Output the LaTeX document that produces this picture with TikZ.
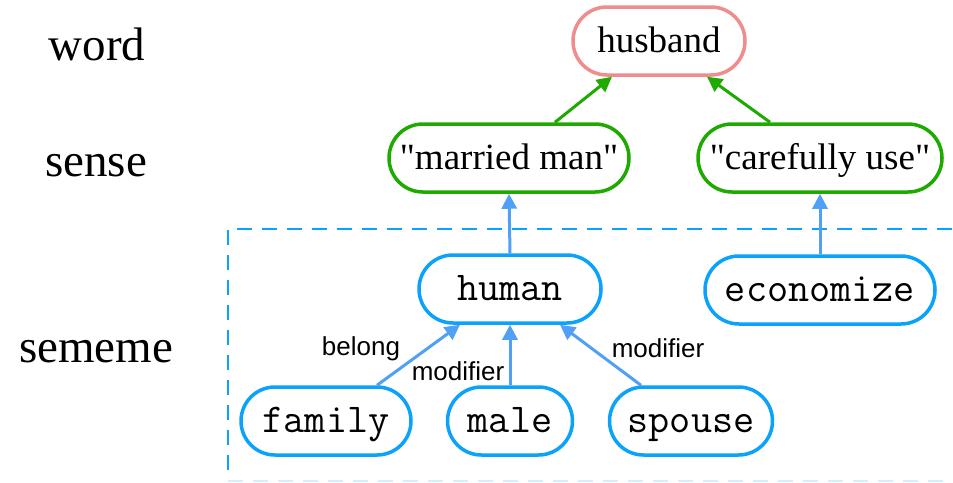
\documentclass[tikz,border=0pt]{standalone}
\usepackage{fontspec}
\setmainfont{Liberation Serif}[Ligatures=TeXOff]
\setsansfont{Liberation Sans}
\usetikzlibrary{arrows.meta,calc}
\definecolor{wordpink}{RGB}{240,140,140}
\definecolor{sensegreen}{RGB}{30,170,0}
\definecolor{semeblue}{RGB}{10,162,250}
\definecolor{linkblue}{RGB}{80,160,245}
\tikzset{
  box/.style={draw, rounded corners=34pt, line width=3.5pt, inner sep=0pt,
    minimum height=68pt, fill=white},
  wordbox/.style={box, draw=wordpink, font=\fontsize{37}{40}\selectfont,
    text height=29.6pt, text depth=5.9pt},
  sensebox/.style={box, draw=sensegreen, font=\fontsize{37}{40}\selectfont,
    text height=29.6pt, text depth=5.9pt},
  semebox/.style={box, draw=semeblue,
    font=\ttfamily\fontsize{41}{44}\selectfont\addfontfeatures{LetterSpace=3},
    text height=30pt, text depth=8pt},
  rowlabel/.style={anchor=base, inner sep=0pt, font=\fontsize{47}{50}\selectfont},
  edgelabel/.style={inner sep=0pt, font=\sffamily\fontsize{26}{28}\selectfont},
  greenarrow/.style={draw=sensegreen, fill=sensegreen, line width=3pt,
    -{Triangle[length=15pt,width=15pt]}},
  bluearrow/.style={draw=linkblue, fill=linkblue, line width=3pt,
    -{Triangle[length=15pt,width=15pt]}},
}
\begin{document}
\begin{tikzpicture}[x=1pt,y=-1pt]
\useasboundingbox (0,0) rectangle (953,482);

% sememe region
\draw[semeblue, line width=2.5pt, dash pattern=on 15pt off 10pt]
  (228,470) -- (228,229) -- (975,229);
\draw[semeblue!18, line width=2.5pt, dash pattern=on 15pt off 10pt]
  (228,481) -- (975,481);

% level labels
\node[rowlabel] (lword)   at (97,60)  {word};
\node[rowlabel] (lsense)  at (96,176) {sense};
\node[rowlabel] (lsememe) at (96,362) {sememe};

% word
\node[wordbox, minimum width=172pt] (husband) at (659,41) {husband};

% senses
\node[sensebox, minimum width=240pt] (married) at (509,158) {"married man"};
\node[sensebox, minimum width=244pt] (careful) at (820,158) {"carefully use"};

% sememes
\node[semebox, minimum width=182pt] (human) at (510,289) {human};
\node[semebox, minimum width=230pt] (econ)  at (820,290) {economize};
\node[semebox, minimum width=170pt] (family) at (326,421) {family};
\node[semebox, minimum width=125pt] (male)   at (510,421) {male};
\node[semebox, minimum width=163pt] (spouse) at (691,421) {spouse};

% sense -> word
\draw[greenarrow] ($(married.north)+(46,0)$) -- ($(husband.south)+(-47,0)$);
\draw[greenarrow] ($(careful.north)+(-50,0)$) -- ($(husband.south)+(48,0)$);

% sememe -> sense
\draw[bluearrow] (human.north) -- (married.south);
\draw[bluearrow] (econ.north) -- (careful.south);

% sememe relations
\draw[bluearrow] ($(family.north)+(51,0)$) -- ($(human.south)+(-50,0)$);
\draw[bluearrow] (male.north) -- (human.south);
\draw[bluearrow] ($(spouse.north)+(-50,0)$) -- ($(human.south)+(50,0)$);

\node[edgelabel] (lbelong) at (361,349) {belong};
\node[edgelabel] (lmod1)   at (458,371) {modifier};
\node[edgelabel] (lmod2)   at (658,348) {modifier};
\end{tikzpicture}
\end{document}
